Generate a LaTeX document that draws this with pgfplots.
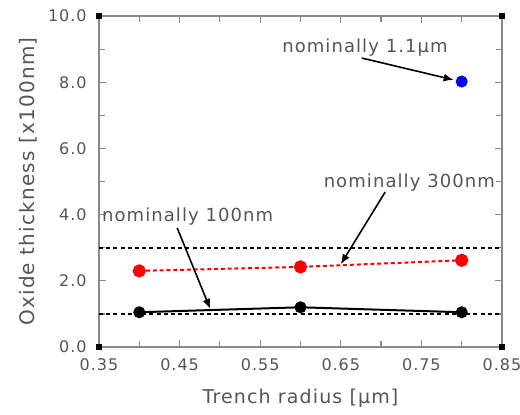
\documentclass[border=0pt]{standalone}
\usepackage{fontspec}
\setmainfont[LetterSpace=6]{DejaVu Sans}
\usepackage{pgfplots}
\pgfplotsset{compat=1.18}
\usetikzlibrary{arrows.meta}
\definecolor{txt}{HTML}{555555}
\definecolor{axgray}{HTML}{8A8A8A}
\definecolor{dotblue}{HTML}{0000FF}
\definecolor{dotred}{HTML}{FF0000}

\begin{document}
\begin{tikzpicture}
\begin{axis}[
    scale only axis, width=201.5pt, height=165.5pt,
    xmin=0.35, xmax=0.85, ymin=0, ymax=10,
    xtick={0.35,0.45,0.55,0.65,0.75,0.85},
    ytick={0,2,4,6,8,10},
    minor x tick num=1, minor y tick num=1,
    tick align=inside,
    major tick length=3.5pt, minor tick length=3pt,
    axis line style={axgray, line width=0.7pt},
    every tick/.style={axgray, line width=0.6pt},
    /pgf/number format/assume math mode=true,
    /pgf/number format/.cd, fixed, fixed zerofill, precision=2, /pgfplots/.cd,
    xticklabel style={font=\fontsize{8}{9}\selectfont, text=txt, inner sep=0pt, yshift=-5.5pt},
    yticklabel={\pgfmathprintnumber[fixed,fixed zerofill,precision=1]{\tick}},
    yticklabel style={font=\fontsize{8}{9}\selectfont, text=txt, inner sep=0pt, xshift=-6pt},
    xlabel={Trench radius [μm]},
    ylabel={Oxide thickness [x100nm]},
    xlabel style={font=\fontsize{9.5}{11}\selectfont, text=txt, at={(axis description cs:0.5,-0.154)}, anchor=center},
    ylabel style={font=\fontsize{10}{12}\selectfont, text=txt, at={(axis description cs:-0.176,0.5)}, anchor=center},
    clip=false,
]
% reference lines
\addplot[black, line width=0.8pt, dash pattern=on 2pt off 1.6pt] coordinates {(0.35,3) (0.85,3)};
\addplot[black, line width=0.8pt, dash pattern=on 2pt off 1.6pt] coordinates {(0.35,1) (0.85,1)};
% nominally 300nm
\addplot[dotred, line width=1pt, dash pattern=on 2pt off 1.4pt, mark=*, mark size=2.8pt, mark options={solid}] coordinates {(0.40,2.30) (0.60,2.42) (0.80,2.62)};
% nominally 100nm
\addplot[black, line width=1pt, mark=*, mark size=2.5pt] coordinates {(0.40,1.05) (0.60,1.20) (0.80,1.05)};
% nominally 1.1um
\addplot[only marks, dotblue, mark=*, mark size=2.8pt] coordinates {(0.80,8.02)};
% corner markers
\addplot[only marks, black, mark=square*, mark size=1.4pt] coordinates {(0.35,0) (0.35,10) (0.85,0) (0.85,10)};
% annotations
\node[font=\fontsize{9}{10}\selectfont, text=txt] at (axis cs:0.68,9.06) {nominally 1.1μm};
\node[font=\fontsize{9}{10}\selectfont, text=txt] at (axis cs:0.735,4.98) {nominally 300nm};
\node[font=\fontsize{9}{10}\selectfont, text=txt] at (axis cs:0.46,3.93) {nominally 100nm};
\draw[-{Latex[length=5pt,width=4pt]}, line width=0.8pt] (axis cs:0.676,8.73) -- (axis cs:0.79,8.07);
\draw[-{Latex[length=5pt,width=4pt]}, line width=0.8pt] (axis cs:0.705,4.68) -- (axis cs:0.65,2.50);
\draw[-{Latex[length=5pt,width=4pt]}, line width=0.8pt] (axis cs:0.447,3.60) -- (axis cs:0.488,1.15);
\end{axis}
\pgfresetboundingbox
\path[use as bounding box] ([shift={(-49.5pt,-33.5pt)}]current axis.south west) rectangle ([shift={(9pt,8pt)}]current axis.north east);
\end{tikzpicture}
\end{document}
